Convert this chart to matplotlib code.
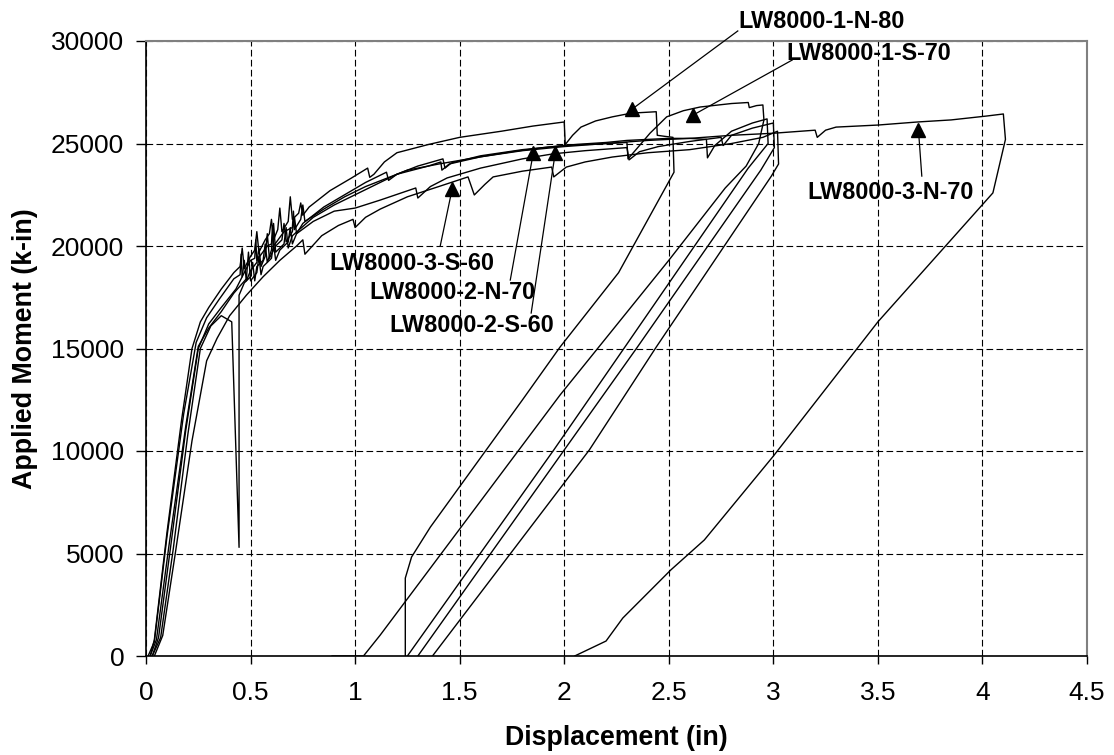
import matplotlib.pyplot as plt

plt.rcParams['font.family'] = ['Liberation Sans', 'DejaVu Sans']

# LW8000-1-N-80
n80_x = [0.02, 0.04, 0.10, 0.17, 0.22, 0.26, 0.30, 0.36, 0.42, 0.45, 0.46, 0.47, 0.50, 0.52, 0.53, 0.54,
         0.57, 0.59, 0.60, 0.61, 0.63, 0.64, 0.65, 0.68, 0.69, 0.70, 0.73, 0.74, 0.75, 0.78,
         0.88, 0.98, 1.06, 1.07, 1.09, 1.14, 1.20, 1.35, 1.50, 1.70, 1.85, 2.00, 2.005, 2.04, 2.08, 2.15,
         2.23, 2.32, 2.44, 2.445, 2.48, 2.52, 2.525, 2.26, 1.98, 1.80, 1.36, 1.27, 1.24, 1.24]
n80_y = [0, 800, 6000, 11500, 15000, 16300, 17000, 17900, 18700, 19000, 19900, 18900, 19500, 19800, 20700, 19700,
         20300, 20600, 21300, 20300, 20800, 21850, 20700, 21200, 22400, 21300, 21600, 22100, 21500, 21900,
         22700, 23300, 23800, 23350, 23500, 24100, 24550, 24950, 25300, 25600, 25850, 26050, 24950, 25400, 25800, 26100,
         26300, 26480, 26550, 25400, 25350, 25300, 23600, 18700, 15070, 12490, 6290, 4830, 3800, 0]

# LW8000-1-S-70
s70_x = [0.03, 0.06, 0.12, 0.19, 0.25, 0.30, 0.36, 0.43, 0.46, 0.47, 0.48, 0.50, 0.53, 0.54, 0.55, 0.57,
         0.58, 0.59, 0.62, 0.65, 0.66, 0.67, 0.70, 0.71, 0.72, 0.75, 0.85, 0.95,
         1.05, 1.15, 1.16, 1.20, 1.30, 1.42, 1.43, 1.46, 1.60, 1.80, 2.00, 2.20, 2.30, 2.305, 2.36, 2.41,
         2.49, 2.57, 2.65, 2.80, 2.88, 2.885, 2.92, 2.95, 2.955, 2.93, 2.87, 2.77, 2.50, 1.98, 1.12, 1.04, 0.89]
s70_y = [0, 900, 5500, 11000, 15000, 16200, 17000, 17900, 18500, 19300, 18300, 18800, 19200, 19900, 19000, 19500,
         20600, 19400, 20000, 20300, 21100, 20200, 20700, 21400, 20600, 21100, 21900, 22500,
         23100, 23600, 23200, 23500, 23900, 24250, 23800, 24050, 24400, 24700, 24900, 25000, 25050, 24250, 24900, 25500,
         26300, 26600, 26780, 26950, 27000, 26750, 26850, 26880, 26150, 25000, 23900, 22830, 19300, 12730, 1020, 0, 0]

# LW8000-3-N-70
n70b_x = [0.01, 0.04, 0.10, 0.18, 0.24, 0.29, 0.35, 0.42, 0.45, 0.455, 0.46, 0.50, 0.52, 0.525, 0.53, 0.58,
          0.60, 0.605, 0.61, 0.66, 0.70, 0.705, 0.71, 0.74, 0.75, 0.76, 0.85, 0.95,
          1.05, 1.15, 1.25, 1.40, 1.60, 1.80, 2.00, 2.20, 2.40, 2.60, 2.80, 3.00, 3.20, 3.21, 3.25, 3.30,
          3.50, 3.69, 3.85, 4.02, 4.10, 4.11, 4.05, 3.50, 3.00, 2.67, 2.51, 2.28, 2.20, 2.12, 2.05]
n70b_y = [0, 700, 5800, 11800, 15300, 16500, 17400, 18400, 18600, 19600, 18500, 19300, 19400, 20300, 19300, 20000,
          20100, 21000, 20000, 20700, 20900, 21700, 20800, 21300, 22000, 21200, 21800, 22400,
          22900, 23300, 23700, 24000, 24350, 24650, 24850, 25000, 25150, 25250, 25400, 25500, 25650, 25300, 25650, 25800,
          25900, 26050, 26150, 26340, 26440, 25200, 22590, 16300, 9750, 5660, 4200, 1850, 730, 340, 0]

# LW8000-2-N-70
n70a_x = [0.03, 0.07, 0.13, 0.20, 0.26, 0.31, 0.36, 0.41, 0.445, 0.445, 0.47, 0.50, 0.51, 0.52, 0.53, 0.56,
          0.57, 0.58, 0.60, 0.61, 0.62, 0.66, 0.67, 0.68, 0.70,
          0.80, 0.90, 1.00, 1.10, 1.20, 1.35, 1.41, 1.415, 1.45, 1.60, 1.75, 1.90, 2.05, 2.20, 2.30, 2.50,
          2.60, 2.68, 2.685, 2.72, 2.80, 2.90, 2.97, 2.975, 2.88, 2.29, 1.95, 1.25]
n70a_y = [0, 900, 5200, 10800, 15000, 16100, 16600, 16300, 5300, 17600, 18200, 18500, 19200, 18300, 19000, 19300,
          20100, 19200, 19800, 21100, 19700, 20100, 20900, 19900, 20500,
          21400, 22000, 22500, 23000, 23500, 23900, 24100, 23700, 24000, 24350, 24600, 24800, 24950, 25050, 25150, 25250,
          25250, 25200, 24300, 24900, 25600, 26000, 26200, 25000, 23800, 15070, 10050, 0]

# LW8000-2-S-60
s60a_x = [0.02, 0.05, 0.11, 0.19, 0.25, 0.30, 0.36, 0.42, 0.48, 0.49, 0.50, 0.53, 0.54, 0.55, 0.56, 0.60,
          0.61, 0.62, 0.64, 0.68, 0.69, 0.70, 0.72, 0.80, 0.90,
          1.00, 1.12, 1.29, 1.30, 1.36, 1.44, 1.60, 1.80, 1.95, 2.10, 2.30, 2.31, 2.36, 2.45, 2.60, 2.75,
          2.76, 2.80, 2.90, 3.00, 3.005, 2.94, 2.35, 2.00, 1.30]
s60a_y = [0, 800, 5400, 11200, 15100, 16000, 16800, 17700, 18400, 19700, 18300, 18700, 19500, 18600, 19000, 19400,
          20100, 19300, 19800, 20200, 20900, 20100, 20600, 21200, 21700,
          21850, 22240, 22830, 22340, 22900, 23320, 23800, 24250, 24500, 24650, 24800, 24200, 24600, 24850, 25100, 25300,
          24900, 25400, 25750, 26000, 24800, 23700, 15070, 10050, 0]

# LW8000-3-S-60
s60b_x = [0.04, 0.08, 0.14, 0.22, 0.29, 0.34, 0.40, 0.48, 0.56, 0.64, 0.72, 0.75, 0.76, 0.84, 0.92, 0.99,
          1.00, 1.05, 1.12, 1.25, 1.40, 1.54, 1.57, 1.62, 1.66, 1.80, 1.94, 1.95, 2.01, 2.10, 2.23, 2.40,
          2.60, 2.80, 2.95, 3.02, 3.025, 2.99, 2.44, 2.12, 1.37]
s60b_y = [0, 1000, 5000, 10500, 14400, 15500, 16600, 17600, 18500, 19300, 20000, 20300, 19600, 20500, 21000, 21300,
          20900, 21400, 21800, 22400, 22900, 23370, 22490, 23000, 23370, 23650, 23850, 23370, 23850, 24100, 24340, 24550,
          24700, 25000, 25300, 25600, 24000, 23400, 15070, 10050, 0]

curves = [(n80_x, n80_y), (s70_x, s70_y), (n70b_x, n70b_y),
          (n70a_x, n70a_y), (s60a_x, s60a_y), (s60b_x, s60b_y)]

# labels: text, text centre, arrow start, arrow tip
labels = ['LW8000-1-N-80', 'LW8000-1-S-70', 'LW8000-3-N-70',
          'LW8000-3-S-60', 'LW8000-2-N-70', 'LW8000-2-S-60']
label_xy = [(3.23, 30930), (3.455, 29410), (3.56, 22590),
            (1.273, 19170), (1.464, 17710), (1.56, 16100)]
arrow_from = [(2.83, 30490), (3.09, 29070), (3.71, 23410),
              (1.407, 20000), (1.742, 18340), (1.842, 16730)]
arrow_to = [(2.325, 26680), (2.617, 26390), (3.694, 25660),
            (1.464, 22780), (1.852, 24540), (1.957, 24540)]

x_ticks = [0, 0.5, 1, 1.5, 2, 2.5, 3, 3.5, 4, 4.5]
x_tick_labels = ['0', '0.5', '1', '1.5', '2', '2.5', '3', '3.5', '4', '4.5']
y_ticks = [0, 5000, 10000, 15000, 20000, 25000, 30000]

fig = plt.figure(figsize=(11.14, 7.55), dpi=100)
ax = fig.add_axes([146/1114, 99/755, 941/1114, 615/755])

for cx, cy in curves:
    ax.plot(cx, cy, color='black', lw=1.0, zorder=3)

for t, (tx, ty), (fx, fy), (px, py) in zip(labels, label_xy, arrow_from, arrow_to):
    ax.text(tx, ty, t, ha='center', va='center', fontsize=16.8, fontweight='bold', zorder=5)
    ax.plot([fx, px], [fy, py], color='black', lw=0.9, clip_on=False, zorder=4)
    ax.plot([px], [py], marker='^', color='black', markersize=10, clip_on=False, zorder=4)

ax.set_xlim(0, 4.5)
ax.set_ylim(0, 30000)
ax.set_xticks(x_ticks)
ax.set_xticklabels(x_tick_labels)
ax.set_yticks(y_ticks)
ax.grid(True, color='black', linestyle=(0, (6, 3)), lw=0.8)
ax.set_axisbelow(True)

ax.tick_params(axis='y', direction='out', length=7, width=1, labelsize=19, pad=8.6)
ax.tick_params(axis='x', direction='out', length=6, width=1, labelsize=19, pad=12)

for s in ['top', 'right']:
    ax.spines[s].set_color('#808080')
    ax.spines[s].set_linewidth(1.5)
for s in ['left', 'bottom']:
    ax.spines[s].set_color('black')
    ax.spines[s].set_linewidth(1.2)

ax.set_xlabel('Displacement (in)', fontsize=19.3, fontweight='bold', va='center')
ax.set_ylabel('Applied Moment (k-in)', fontsize=19.3, fontweight='bold', va='center')
ax.xaxis.set_label_coords(0.5, (656 - 738) / 615)
ax.yaxis.set_label_coords((25 - 146) / 941, 0.5)

plt.savefig('out.png', dpi=100)
